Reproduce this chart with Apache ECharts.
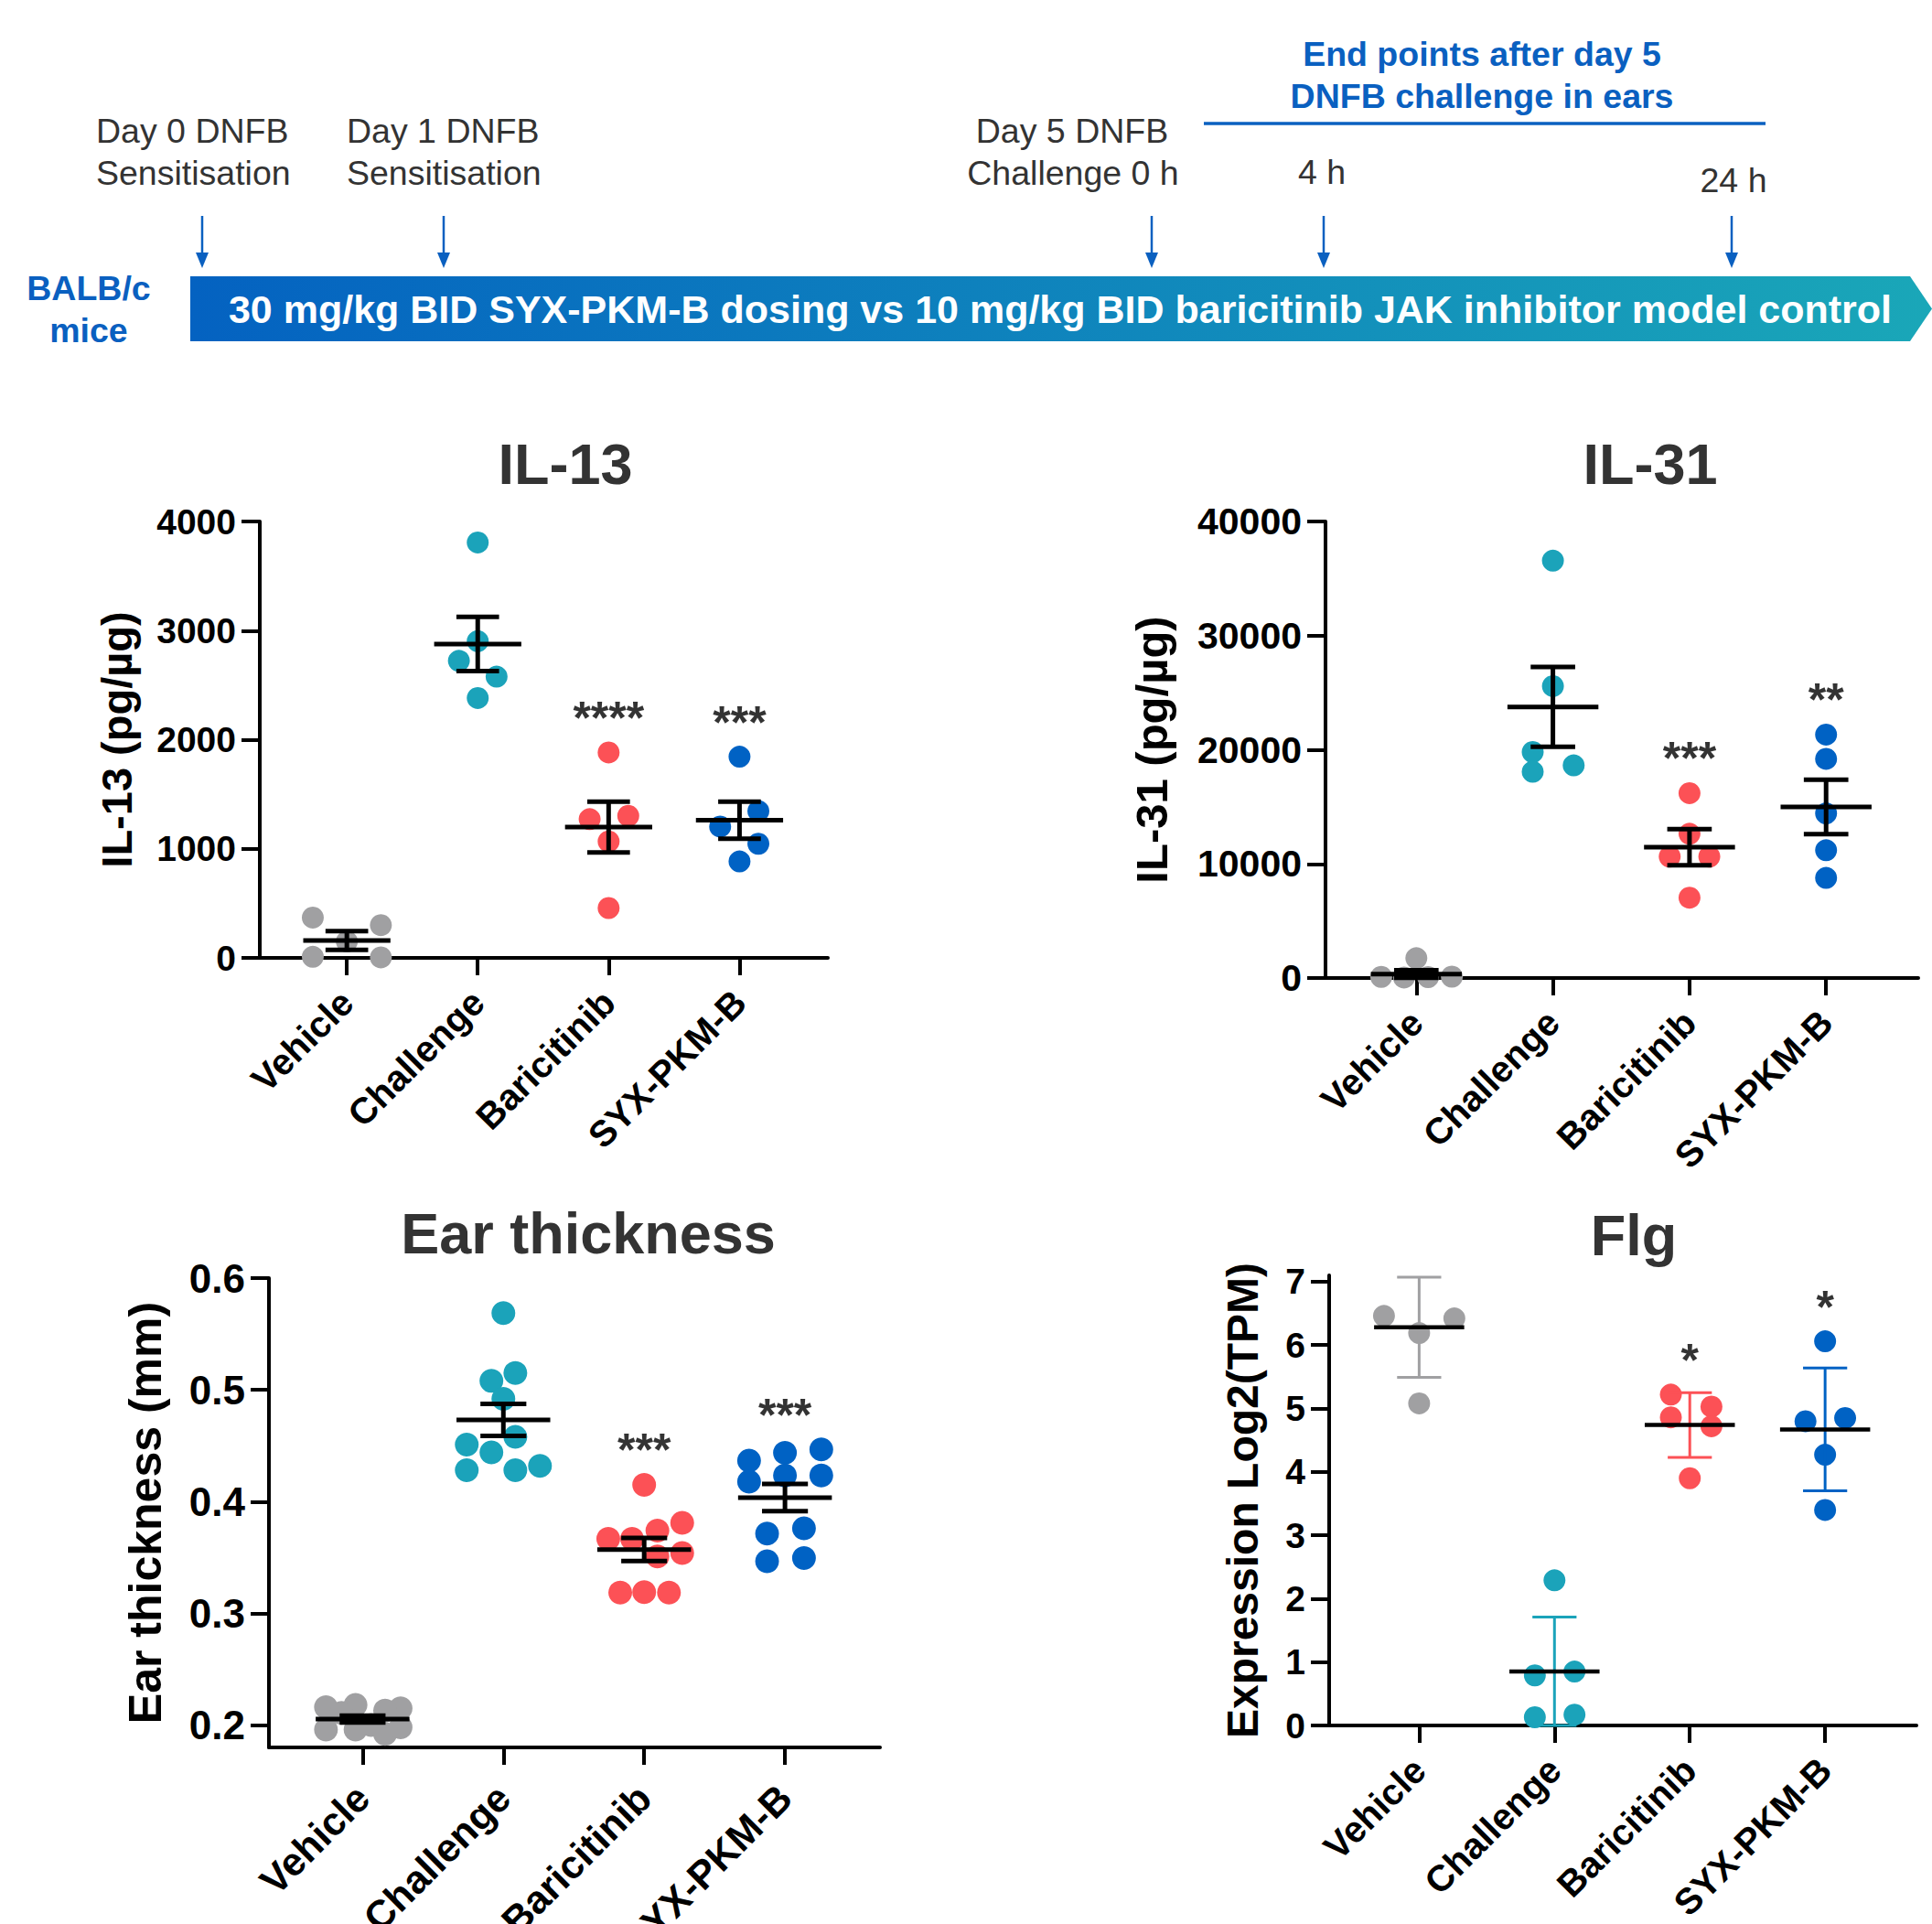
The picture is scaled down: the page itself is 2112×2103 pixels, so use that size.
<!DOCTYPE html>
<html><head><meta charset="utf-8">
<script src="https://cdn.jsdelivr.net/npm/echarts@6/dist/echarts.min.js"></script>
<style>html,body{margin:0;padding:0;background:#fff}#chart{width:2112px;height:2103px}</style>
</head><body><div id="chart"></div>
<script>
const categories = ['Vehicle', 'Challenge', 'Baricitinib', 'SYX-PKM-B'];
const groupColors = ['#a0a0a2', '#1ba3ba', '#fc5156', '#0062c4'];

// IL-13 (pg/µg)
const il13Values = [[370, 300, 10, 5, 150], [3808, 2903, 2723, 2578, 2382], [1883, 1272, 1302, 1067, 457], [1844, 1204, 1345, 1046, 884]];
const il13Jitter = [[-0.26, 0.26, -0.26, 0.26, 0], [0, 0, -0.144, 0.144, 0], [0, -0.145, 0.15, 0, 0], [0, -0.148, 0.144, 0.144, 0]];
const il13Mean = [160, 2877, 1199, 1262];
const il13Err = [86, 248, 233, 169];
const il13Stars = ['', '', '****', '***'];
const il13Ticks = [0, 1000, 2000, 3000, 4000];

// IL-31 (pg/µg)
const il31Values = [[1737, 100, 50, 80, 120], [36570, 25580, 19800, 18070, 18630], [16200, 12640, 10640, 10640, 7040], [21325, 19200, 14420, 11200, 8770]];
const il31Jitter = [[0, -0.257, -0.09, 0.086, 0.26], [0, 0, -0.148, -0.148, 0.152], [0, 0, -0.145, 0.145, 0], [0, 0, 0, 0, 0]];
const il31Mean = [350, 23757, 11466, 14984];
const il31Err = [330, 3500, 1580, 2385];
const il31Stars = ['', '', '***', '**'];
const il31Ticks = [0, 10000, 20000, 30000, 40000];

// Ear thickness (mm)
const earValues = [
  [0.216, 0.218, 0.215, 0.213, 0.211, 0.196, 0.196, 0.192, 0.198, 0.200],
  [0.5686, 0.508, 0.515, 0.492, 0.458, 0.451, 0.444, 0.428, 0.428, 0.432],
  [0.415, 0.381, 0.374, 0.3666, 0.3666, 0.354, 0.351, 0.3185, 0.319, 0.3185],
  [0.4366, 0.4437, 0.4466, 0.4178, 0.4233, 0.4233, 0.3714, 0.376, 0.3466, 0.3495]
];
const earJitter = [
  [-0.26, -0.05, 0.27, 0.16, -0.15, -0.26, -0.05, 0.16, 0.27, 0.06],
  [0, -0.085, 0.085, 0, 0.085, -0.26, -0.085, -0.26, 0.085, 0.26],
  [0, 0.27, 0.094, -0.255, -0.086, 0.27, 0.094, -0.17, 0, 0.176],
  [-0.255, 0, 0.258, -0.255, 0, 0.258, -0.127, 0.135, -0.127, 0.135]
];
const earMean = [0.2054, 0.4731, 0.3571, 0.4036];
const earErr = [0.003, 0.0144, 0.0103, 0.0121];
const earStars = ['', '', '***', '***'];
const earTicks = [0.2, 0.3, 0.4, 0.5, 0.6];

// Flg expression Log2(TPM)
const flgValues = [[6.46, 6.42, 6.19, 5.08], [2.29, 0.79, 0.85, 0.13, 0.17], [5.22, 5.03, 4.86, 4.72, 3.90], [6.06, 4.80, 4.85, 4.27, 3.40]];
const flgJitter = [[-0.26, 0.26, 0, 0], [0, -0.145, 0.148, -0.145, 0.148], [-0.14, 0.16, -0.14, 0.16, 0], [0, -0.145, 0.148, 0, 0]];
const flgMean = [6.28, 0.85, 4.74, 4.67];
const flgErr = [0.79, 0.86, 0.51, 0.97];
const flgStars = ['', '', '*', '*'];
const flgTicks = [0, 1, 2, 3, 4, 5, 6, 7];

const FONT = '"Liberation Sans", Arial, Helvetica, sans-serif';
const catIdx = [0, 1, 2, 3];

const panels = [
  { title: 'IL-13', name: 'IL-13 (pg/µg)', values: il13Values, jitter: il13Jitter, mean: il13Mean, err: il13Err, stars: il13Stars, ticks: il13Ticks,
    min: 0, max: 4000, grid: { left: 284, top: 570, width: 621, height: 477 }, nameGap: 133, nameSize: 47, titleX: 618, titleY: 475,
    dot: 24, labelSize: 40, tickSize: 39, catMargin: 42, colorBars: false },
  { title: 'IL-31', name: 'IL-31 (pg/µg)', values: il31Values, jitter: il31Jitter, mean: il31Mean, err: il31Err, stars: il31Stars, ticks: il31Ticks,
    min: 0, max: 40000, grid: { left: 1449, top: 570, width: 648, height: 499 }, nameGap: 166, nameSize: 49, titleX: 1804, titleY: 475,
    dot: 24, labelSize: 40, tickSize: 41, catMargin: 42, colorBars: false },
  { title: 'Ear thickness', name: 'Ear thickness (mm)', values: earValues, jitter: earJitter, mean: earMean, err: earErr, stars: earStars, ticks: earTicks,
    min: 0.18, max: 0.6, grid: { left: 294, top: 1397, width: 668, height: 513 }, nameGap: 110, nameSize: 50, titleX: 643, titleY: 1316,
    dot: 26, labelSize: 43, tickSize: 44, catMargin: 48, colorBars: false },
  { title: 'Flg', name: 'Expression Log2(TPM)', values: flgValues, jitter: flgJitter, mean: flgMean, err: flgErr, stars: flgStars, ticks: flgTicks,
    min: 0, max: 7.1, grid: { left: 1453, top: 1394, width: 642, height: 492 }, nameGap: 71, nameSize: 48, titleX: 1786, titleY: 1318,
    dot: 24, labelSize: 40, tickSize: 39, catMargin: 42, colorBars: true }
];

const option = {
  animation: false,
  backgroundColor: '#ffffff',
  textStyle: { fontFamily: FONT },
  title: [], grid: [], xAxis: [], yAxis: [], series: [], graphic: []
};

panels.forEach((p, pi) => {
  option.title.push({ text: p.title, left: p.titleX, top: p.titleY, textAlign: 'center', padding: 0,
    textStyle: { fontSize: 63, fontWeight: 'bold', color: '#333333', fontFamily: FONT } });
  option.grid.push(Object.assign({ containLabel: false, outerBoundsMode: 'none' }, p.grid));
  const axisLine = { show: true, onZero: false, lineStyle: { color: '#000', width: 4 } };
  option.xAxis.push({
    type: 'value', gridIndex: pi, min: -0.665, max: 3.675, splitLine: { show: false },
    axisLine: axisLine,
    axisTick: { show: true, customValues: catIdx, length: 19, lineStyle: { color: '#000', width: 4 } },
    axisLabel: { customValues: catIdx, formatter: v => categories[Math.round(v)], rotate: 45, margin: p.catMargin,
      fontSize: p.labelSize, fontWeight: 'bold', color: '#000', fontFamily: FONT }
  });
  option.yAxis.push({
    type: 'value', gridIndex: pi, min: p.min, max: p.max, splitLine: { show: false },
    axisLine: axisLine,
    axisTick: { show: true, customValues: p.ticks, length: 20, lineStyle: { color: '#000', width: 4 } },
    axisLabel: { customValues: p.ticks, formatter: v => String(v), margin: 26, fontSize: p.tickSize, fontWeight: 'bold', color: '#000', fontFamily: FONT },
    name: p.name, nameLocation: 'middle', nameGap: p.nameGap, nameRotate: 90,
    nameTextStyle: { fontSize: p.nameSize, fontWeight: 'bold', color: '#000', fontFamily: FONT }
  });
  // points
  p.values.forEach((vals, g) => {
    option.series.push({
      type: 'scatter', xAxisIndex: pi, yAxisIndex: pi, symbolSize: p.dot, z: 2, silent: true,
      itemStyle: { color: groupColors[g], opacity: 1 },
      data: vals.map((v, i) => [g + p.jitter[g][i], v])
    });
  });
  // mean and error bars
  option.series.push({
    type: 'custom', xAxisIndex: pi, yAxisIndex: pi, z: 5, silent: true,
    data: p.mean.map((m, g) => [g, m, p.err[g]]),
    renderItem: (params, api) => {
      const g = api.value(0), m = api.value(1), e = api.value(2);
      const lo = Math.max(p.min, m - e), hi = Math.min(p.max, m + e);
      const c = api.coord([g, m]), t = api.coord([g, hi]), b = api.coord([g, lo]);
      const hm = api.size([0.333, 0])[0], hc = api.size([0.163, 0])[0];
      const ec = p.colorBars ? groupColors[g] : '#000';
      const ew = p.colorBars ? 3 : 5;
      const mw = p.colorBars ? 4.5 : 5;
      const st = (col, w) => ({ stroke: col, lineWidth: w, fill: null });
      return { type: 'group', children: [
        { type: 'line', shape: { x1: c[0], y1: t[1], x2: c[0], y2: b[1] }, style: st(ec, ew) },
        { type: 'line', shape: { x1: c[0] - hc, y1: t[1], x2: c[0] + hc, y2: t[1] }, style: st(ec, ew) },
        { type: 'line', shape: { x1: c[0] - hc, y1: b[1], x2: c[0] + hc, y2: b[1] }, style: st(ec, ew) },
        { type: 'line', shape: { x1: c[0] - hm, y1: c[1], x2: c[0] + hm, y2: c[1] }, style: st('#000', mw) }
      ] };
    }
  });
  // significance stars above the highest point of each group
  option.series.push({
    type: 'scatter', xAxisIndex: pi, yAxisIndex: pi, symbolSize: 1, z: 6, silent: true,
    itemStyle: { color: 'rgba(0,0,0,0)' },
    data: p.stars.map((s, g) => ({ value: [g, Math.max(...p.values[g])], name: s })).filter(d => d.name),
    label: { show: true, position: 'top', distance: 12, formatter: '{b}', fontSize: 50, fontWeight: 'bold', color: '#000', fontFamily: FONT }
  });
});

// ---- timeline diagram ----
const BLUE = '#0a60c0';
const DARK = '#333333';
function txt(text, x, y, opts) {
  return { type: 'text', silent: true, style: Object.assign({ text: text, x: x, y: y, fill: DARK, fontSize: 37.5, fontFamily: FONT,
    align: 'left', verticalAlign: 'middle' }, opts || {}) };
}
function arrow(x) {
  return [
    { type: 'line', silent: true, shape: { x1: x, y1: 236, x2: x, y2: 280 }, style: { stroke: BLUE, lineWidth: 2.5 } },
    { type: 'polygon', silent: true, shape: { points: [[x - 7, 276], [x + 7, 276], [x, 293]] }, style: { fill: BLUE } }
  ];
}
option.graphic = [
  { type: 'polygon', silent: true, shape: { points: [[208, 302], [2088, 302], [2112, 337.5], [2088, 373], [208, 373]] },
    style: { fill: { type: 'linear', x: 0, y: 0, x2: 1, y2: 0, colorStops: [{ offset: 0, color: '#0462c1' }, { offset: 1, color: '#1aa7b8' }] } } },
  txt('30 mg/kg BID SYX-PKM-B dosing vs 10 mg/kg BID baricitinib JAK inhibitor model control', 1159, 338,
    { fill: '#ffffff', fontSize: 43, fontWeight: 'bold', align: 'center' }),
  txt('BALB/c', 97, 315, { fill: BLUE, fontWeight: 'bold', fontSize: 37.5, align: 'center' }),
  txt('mice', 97, 361, { fill: BLUE, fontWeight: 'bold', fontSize: 37.5, align: 'center' }),
  txt('Day 0 DNFB', 105, 143),
  txt('Sensitisation', 105, 189),
  txt('Day 1 DNFB', 379, 143),
  txt('Sensitisation', 379, 189),
  txt('Day 5 DNFB', 1172, 143, { align: 'center' }),
  txt('Challenge 0 h', 1173, 189, { align: 'center' }),
  txt('4 h', 1445, 188, { align: 'center' }),
  txt('24 h', 1895, 197, { align: 'center' }),
  txt('End points after day 5', 1620, 59, { fill: BLUE, fontWeight: 'bold', fontSize: 37.5, align: 'center' }),
  txt('DNFB challenge in ears', 1620, 105, { fill: BLUE, fontWeight: 'bold', fontSize: 37.5, align: 'center' }),
  { type: 'line', silent: true, shape: { x1: 1316, y1: 135, x2: 1930, y2: 135 }, style: { stroke: BLUE, lineWidth: 3.5 } }
].concat(arrow(221), arrow(485), arrow(1259), arrow(1447), arrow(1893));

const chart = echarts.init(document.getElementById('chart'), null, { renderer: 'svg', width: 2112, height: 2103 });
chart.setOption(option);
</script></body></html>
